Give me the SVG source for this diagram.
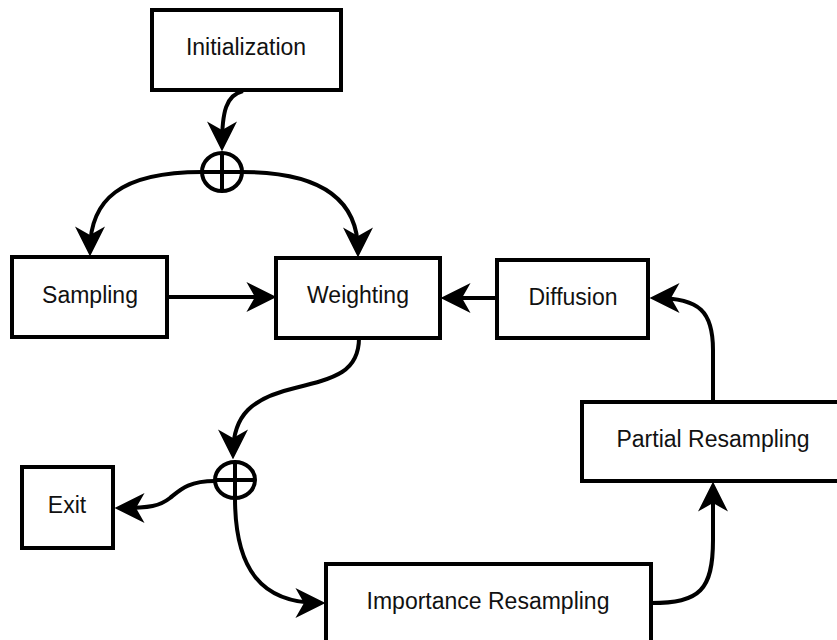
<svg xmlns="http://www.w3.org/2000/svg" width="837" height="640" viewBox="0 0 837 640">
<style>
.box{fill:#fff;stroke:#000;stroke-width:4}
.lbl{font-family:"Liberation Sans",Arial,Helvetica,sans-serif;font-size:23px;fill:#111;text-anchor:middle}
.edge{fill:none;stroke:#000;stroke-width:4;marker-end:url(#arr)}
.plain{fill:none;stroke:#000;stroke-width:4}
.junc{fill:#fff;stroke:#000;stroke-width:4}
</style>
<defs>
<marker id="arr" markerUnits="userSpaceOnUse" markerWidth="30" markerHeight="30" viewBox="0 0 28 28" refX="22" refY="14" orient="auto">
<path d="M0,0 L28,14 L0,28 L8,14 Z" fill="#000"/>
</marker>
</defs>
<rect width="837" height="640" fill="#fff"/>
<g id="connectors">
<path class="edge" d="M243,91 C226,95 222,112 222,145"/>
<path class="edge" d="M202,172 C120,172 90,200 90,250"/>
<path class="edge" d="M242,172 C322,172 358,200 358,251"/>
<path class="edge" d="M167,297 L270,297"/>
<path class="edge" d="M497,298 L447,298"/>
<path class="edge" d="M713,402 L713,350 C713,312 700,298 656,298"/>
<path class="edge" d="M651,603 C700,603 713,590 713,540 L713,488"/>
<path class="edge" d="M359,338 C359,372 335,378 295,388 C252,398 233,415 233,453"/>
<path class="edge" d="M215,481 C188,481 180,490 170,498 C160,506 150,508 121,508"/>
<path class="edge" d="M235,498 C235,570 262,603 319,603"/>
</g>
<g id="junction1">
<ellipse class="junc" cx="222" cy="172" rx="20" ry="19"/>
<path class="plain" d="M202,172 H242 M222,153 V191" stroke-width="3.5"/>
</g>
<g id="junction2">
<ellipse class="junc" cx="235" cy="480" rx="20" ry="18"/>
<path class="plain" d="M215,480 H255 M235,462 V498" stroke-width="3.5"/>
</g>
<g id="initialization">
<rect class="box" x="152" y="10" width="189" height="80"/>
<text class="lbl" x="246" y="55">Initialization</text>
</g>
<g id="sampling">
<rect class="box" x="12" y="257" width="155" height="80"/>
<text class="lbl" x="90" y="303">Sampling</text>
</g>
<g id="weighting">
<rect class="box" x="276" y="258" width="164" height="80"/>
<text class="lbl" x="358" y="303">Weighting</text>
</g>
<g id="diffusion">
<rect class="box" x="497" y="260" width="151" height="78"/>
<text class="lbl" x="573" y="305">Diffusion</text>
</g>
<g id="partial-resampling">
<rect class="box" x="582" y="402" width="262" height="79"/>
<text class="lbl" x="713" y="447">Partial Resampling</text>
</g>
<g id="importance-resampling">
<rect class="box" x="326" y="564" width="325" height="80"/>
<text class="lbl" x="488" y="609">Importance Resampling</text>
</g>
<g id="exit">
<rect class="box" x="22" y="467" width="91" height="81"/>
<text class="lbl" x="67" y="513">Exit</text>
</g>
</svg>
